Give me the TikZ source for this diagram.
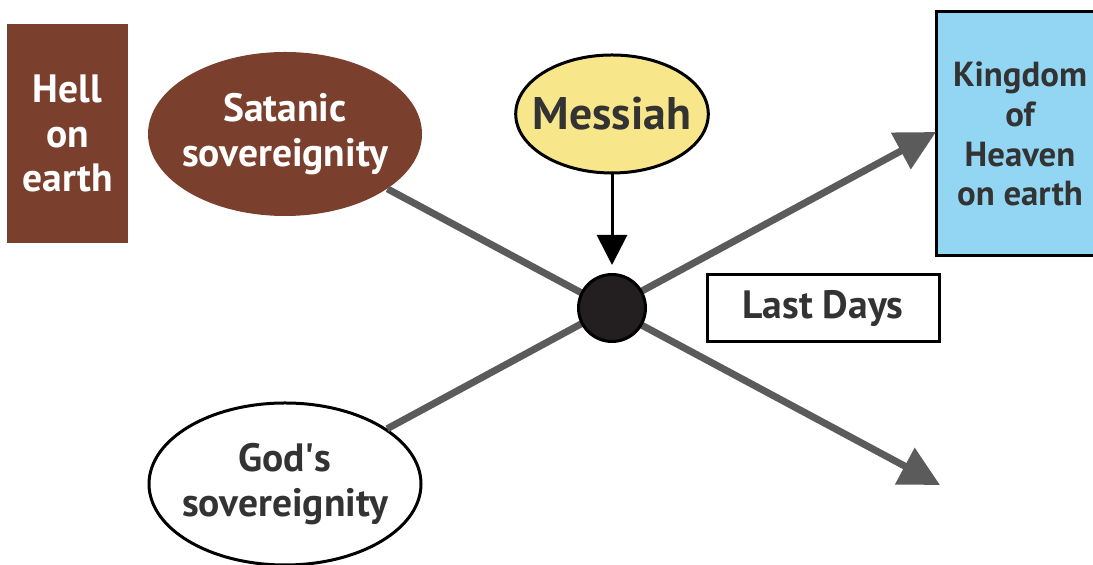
\documentclass[tikz,border=0pt]{standalone}
\usepackage{fontspec}
\setmainfont{PT Sans}
\usetikzlibrary{shapes.geometric,arrows.meta}

\definecolor{brownfill}{HTML}{7A402D}
\definecolor{yellowfill}{HTML}{F8E68A}
\definecolor{bluefill}{HTML}{93D6F4}
\definecolor{roadgray}{HTML}{5B5B5B}
\definecolor{darktext}{HTML}{333333}
\definecolor{hubfill}{HTML}{231F20}

\tikzset{
    label/.style={font=\bfseries\fontsize{22.5}{25.5}\selectfont, align=center, inner sep=0},
    evil/.style={label, fill=brownfill, text=white},
    oval/.style={ellipse, label, text=darktext, draw, line width=0.7mm},
    road/.style={draw=roadgray, line width=1.4mm, -{Triangle[length=8mm, width=8mm]}},
    thin/.style={line width=0.6mm}
    }

\begin{document}
\begin{tikzpicture}
                \useasboundingbox (0,0) rectangle (21.86,11.30);
                % The sovereignties
                \node(hell)[evil, minimum width=2.42cm, minimum height=4.38cm] at (1.35,8.63) {Hell\\on\\earth};
                \node(satan)[evil, ellipse, minimum width=5.48cm, minimum height=3.28cm, inner xsep=-1.5mm] at (5.70,8.62) {Satanic\\sovereignity};
                \node(god)[oval, thin, fill=white, minimum width=5.44cm, minimum height=3.24cm, inner xsep=-1.5mm] at (5.70,1.62) {God\textquotesingle s\\sovereignity};
                \node(messiah)[oval, thin, fill=yellowfill, minimum width=3.78cm, minimum height=2.36cm, inner xsep=-2.2mm,
                    font=\bfseries\fontsize{26}{30}\selectfont] at (12.24,9.02) {Messiah};
                \node(kingdom)[label, draw, thin, fill=bluefill, text=darktext, minimum width=3.36cm, minimum height=4.88cm,
                    font=\bfseries\fontsize{19.8}{22.7}\selectfont] at (20.40,8.62) {Kingdom\\of\\Heaven\\on earth};
                \node(days)[label, draw, thin, text=darktext, minimum width=4.64cm, minimum height=1.34cm] at (16.46,5.13) {Last Days};
                % The two roads
                \coordinate(up) at (18.72,8.66);
                \coordinate(down) at (18.80,1.60);
                \draw[road] (satan) -- (down);
                \draw[road] (god) -- (up);
                \node(hub)[circle, draw, thin, fill=hubfill, minimum size=1.34cm] at (12.24,5.14) {};
                \draw[thin, -{Triangle[length=6mm, width=6mm]}, shorten >=1.6mm] (messiah) -- (hub);
            \end{tikzpicture}
\end{document}
